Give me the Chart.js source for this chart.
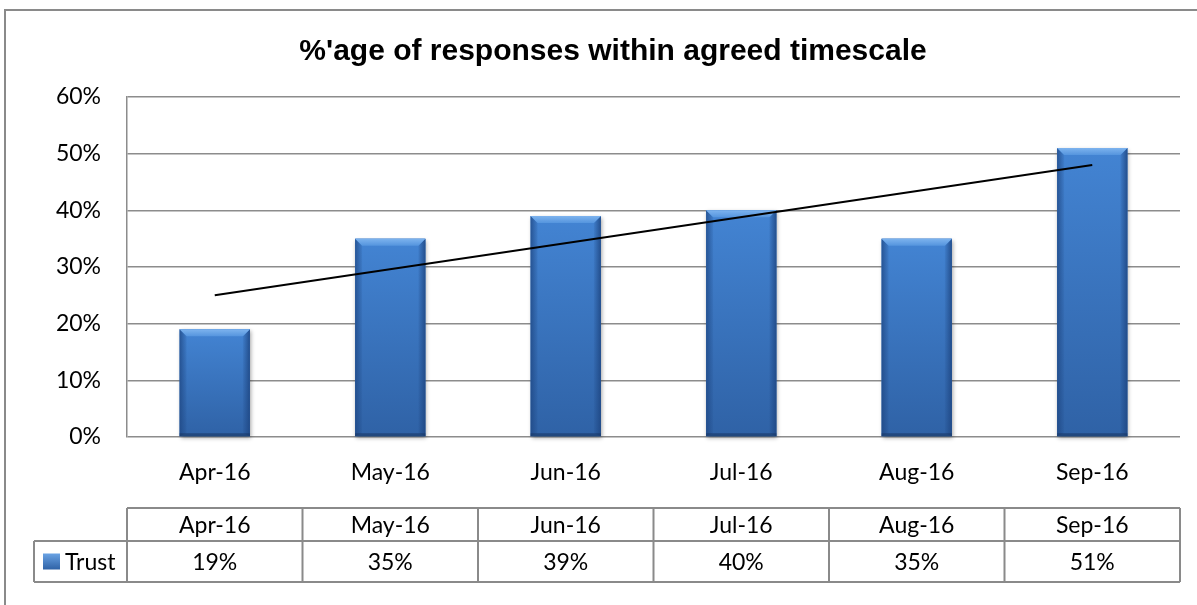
<!DOCTYPE html>
<html>
<head>
<meta charset="utf-8">
<script src="https://cdn.jsdelivr.net/npm/chart.js@4"></script>
<style>
  body { margin: 0; background: #fff; }
  #wrap { width: 1197px; height: 605px; }
</style>
</head>
<body>
<div id="wrap"><canvas id="myChart" width="1197" height="605"></canvas></div>
<script>
const months = ["Apr-16", "May-16", "Jun-16", "Jul-16", "Aug-16", "Sep-16"];
const trustValues = [19, 35, 39, 40, 35, 51];
// linear trendline (start and end only)
const trendValues = [25, null, null, null, null, 48];
const yTicks = [0, 10, 20, 30, 40, 50, 60];
const seriesName = "Trust";
const chartTitle = "%'age of responses within agreed timescale";

const gridColor = "#8c8c8c";
const labelFont = { family: "Lato", size: 23 };

// outer frame + title (Excel centres the title on the whole chart box)
const framePlugin = {
    id: "frame",
    beforeDraw(chart) {
        const ctx = chart.ctx;
        ctx.save();
        ctx.strokeStyle = "#8a8a8a";
        ctx.lineWidth = 2;
        ctx.strokeRect(5, 10, chart.width + 20, chart.height + 20);
        ctx.restore();
    },
    afterDraw(chart) {
        const ctx = chart.ctx;
        ctx.save();
        ctx.fillStyle = "#000";
        ctx.font = "bold 30px 'Liberation Sans'";
        ctx.textAlign = "center";
        ctx.textBaseline = "alphabetic";
        ctx.fillText(chartTitle, 613, 60);
        ctx.restore();
    }
};

// bevel look on the bars
const bevelPlugin = {
    id: "bevel",
    afterDatasetDraw(chart, args) {
        if (args.index !== 0) return;
        const ctx = chart.ctx;
        const meta = args.meta;
        meta.data.forEach(function (bar) {
            const x0 = bar.x - bar.width / 2;
            const x1 = bar.x + bar.width / 2;
            const top = bar.y;
            const base = bar.base;
            const b = 7;

            ctx.save();
            ctx.shadowColor = "rgba(0,0,0,0.35)";
            ctx.shadowBlur = 4;
            ctx.shadowOffsetY = 2;
            ctx.shadowOffsetX = 1;
            let g = ctx.createLinearGradient(0, top, 0, base);
            g.addColorStop(0, "#4384d3");
            g.addColorStop(1, "#2f62a6");
            ctx.fillStyle = g;
            ctx.fillRect(x0, top, x1 - x0, base - top);
            ctx.restore();

            ctx.save();
            // left edge
            let gl = ctx.createLinearGradient(x0, 0, x0 + b, 0);
            gl.addColorStop(0, "rgba(30,70,130,0.75)");
            gl.addColorStop(1, "rgba(30,70,130,0.1)");
            ctx.fillStyle = gl;
            ctx.beginPath();
            ctx.moveTo(x0, top);
            ctx.lineTo(x0 + b, top + b);
            ctx.lineTo(x0 + b, base - 3);
            ctx.lineTo(x0, base);
            ctx.closePath();
            ctx.fill();
            // right edge
            let gr = ctx.createLinearGradient(x1, 0, x1 - b, 0);
            gr.addColorStop(0, "rgba(30,70,130,0.85)");
            gr.addColorStop(1, "rgba(30,70,130,0.1)");
            ctx.fillStyle = gr;
            ctx.beginPath();
            ctx.moveTo(x1, top);
            ctx.lineTo(x1 - b, top + b);
            ctx.lineTo(x1 - b, base - 3);
            ctx.lineTo(x1, base);
            ctx.closePath();
            ctx.fill();
            // top bevel
            let gt = ctx.createLinearGradient(0, top, 0, top + b);
            gt.addColorStop(0, "#7db3ee");
            gt.addColorStop(1, "#5595de");
            ctx.fillStyle = gt;
            ctx.beginPath();
            ctx.moveTo(x0, top);
            ctx.lineTo(x1, top);
            ctx.lineTo(x1 - b, top + b);
            ctx.lineTo(x0 + b, top + b);
            ctx.closePath();
            ctx.fill();
            // bottom edge
            ctx.fillStyle = "rgba(25,55,100,0.6)";
            ctx.fillRect(x0, base - 3, x1 - x0, 3);
            ctx.restore();
        });
    }
};

// data table under the axis
const tablePlugin = {
    id: "dataTable",
    afterDraw(chart) {
        const ctx = chart.ctx;
        const xs = chart.scales.x;
        const n = months.length;
        const colW = (xs.right - xs.left) / n;
        const rowTop = xs.top + 71;
        const rowMid = xs.top + 104;
        const rowBot = xs.top + 145;
        const keyLeft = 34;

        ctx.save();
        ctx.strokeStyle = "#8a8a8a";
        ctx.lineWidth = 2;
        ctx.beginPath();
        ctx.moveTo(xs.left, rowTop); ctx.lineTo(xs.right, rowTop);
        ctx.moveTo(keyLeft, rowMid); ctx.lineTo(xs.right, rowMid);
        ctx.moveTo(keyLeft, rowBot); ctx.lineTo(xs.right, rowBot);
        ctx.moveTo(keyLeft, rowMid); ctx.lineTo(keyLeft, rowBot);
        for (let i = 0; i <= n; i++) {
            const x = xs.left + i * colW;
            ctx.moveTo(x, rowTop); ctx.lineTo(x, rowBot);
        }
        ctx.stroke();

        ctx.fillStyle = "#000";
        ctx.font = labelFont.size + "px " + labelFont.family;
        ctx.textAlign = "center";
        ctx.textBaseline = "middle";
        for (let i = 0; i < n; i++) {
            const cx = xs.getPixelForValue(i);
            ctx.fillText(months[i], cx, (rowTop + rowMid) / 2 + 1);
            ctx.fillText(trustValues[i] + "%", cx, (rowMid + rowBot) / 2 + 1);
        }

        // legend key + series name
        const ky = (rowMid + rowBot) / 2;
        let kg = ctx.createLinearGradient(0, ky - 8, 0, ky + 8);
        kg.addColorStop(0, "#6aa3e4");
        kg.addColorStop(1, "#2f62a6");
        ctx.fillStyle = kg;
        ctx.fillRect(43, ky - 8, 17, 16);
        ctx.fillStyle = "#000";
        ctx.textAlign = "left";
        ctx.fillText(seriesName, 65, ky + 1);
        ctx.restore();
    }
};

const ctx = document.getElementById("myChart").getContext("2d");
new Chart(ctx, {
    data: {
        labels: months,
        datasets: [
            {
                type: "bar",
                label: seriesName,
                data: trustValues,
                backgroundColor: "#3b78c6",
                borderWidth: 0,
                categoryPercentage: 1,
                barPercentage: 0.4,
                order: 2
            },
            {
                type: "line",
                label: "Linear (Trust)",
                data: trendValues,
                spanGaps: true,
                borderColor: "#000",
                borderWidth: 2,
                pointRadius: 0,
                fill: false,
                order: 1
            }
        ]
    },
    options: {
        responsive: false,
        animation: false,
        layout: { padding: { left: 0, right: 17, top: 97, bottom: 0 } },
        plugins: {
            legend: { display: false },
            tooltip: { enabled: false },
            title: { display: false }
        },
        scales: {
            x: {
                grid: { display: false, drawTicks: false },
                border: { display: false },
                ticks: { color: "#000", font: labelFont, padding: 22 },
                afterFit(scale) { scale.height = 168; }
            },
            y: {
                min: 0,
                max: 60,
                afterBuildTicks(scale) {
                    scale.ticks = yTicks.map(v => ({ value: v }));
                },
                grid: { color: gridColor, lineWidth: 1.5, drawTicks: false },
                border: { display: true, color: gridColor, width: 1.5 },
                ticks: {
                    color: "#000",
                    font: labelFont,
                    padding: 26,
                    callback: v => v + "%"
                },
                afterFit(scale) { scale.width = 127; }
            }
        }
    },
    plugins: [framePlugin, bevelPlugin, tablePlugin]
});
</script>
</body>
</html>
